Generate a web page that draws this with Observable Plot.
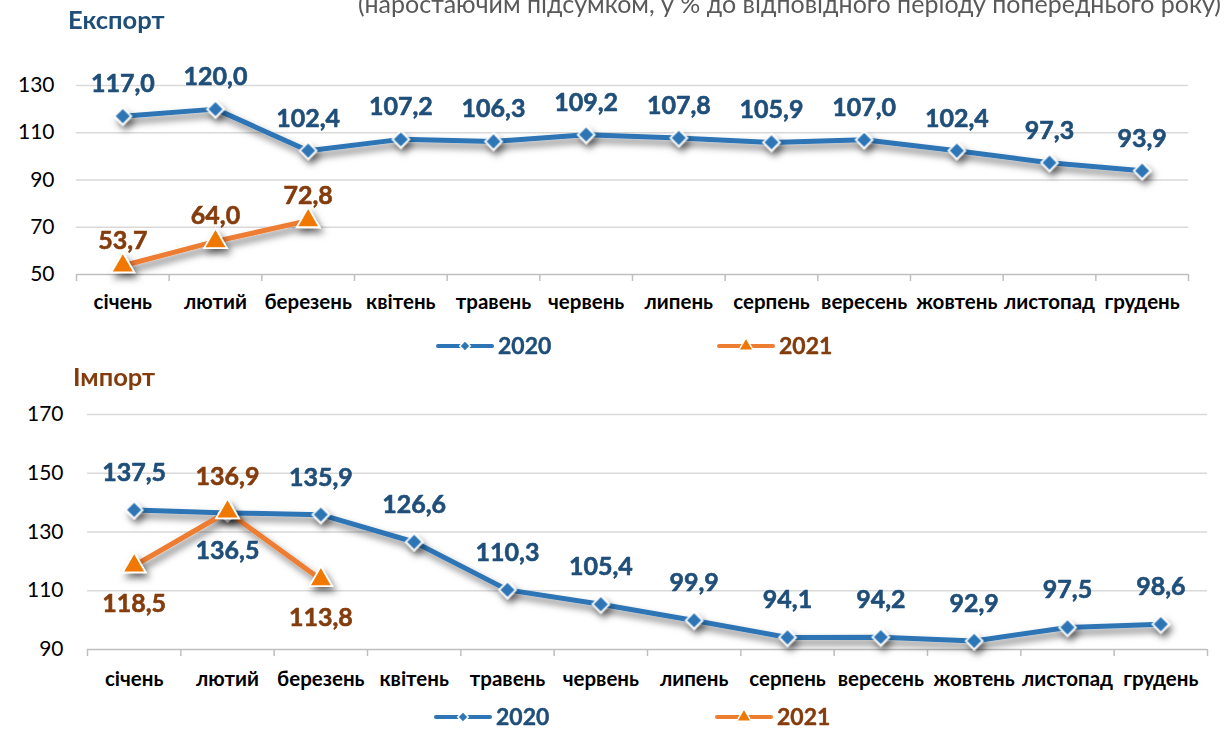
<!DOCTYPE html>
<html>
<head>
<meta charset="utf-8">
<script src="https://cdn.jsdelivr.net/npm/d3@7"></script>
<script src="https://cdn.jsdelivr.net/npm/@observablehq/plot@0.6"></script>
<style>
  html, body { margin: 0; padding: 0; background: #fff; }
  body { width: 1225px; height: 730px; position: relative; overflow: hidden; font-family: Lato, "Open Sans", sans-serif; }
  .abs { position: absolute; }
  #overlay { position: absolute; left: 0; top: 0; pointer-events: none; }
</style>
</head>
<body>
<div id="exportChart" class="abs" style="left:0;top:60px;"></div>
<div id="importChart" class="abs" style="left:0;top:390px;"></div>
<svg id="overlay" width="1225" height="730"></svg>
<script>
// ---------------- DATA ----------------
const months = ["січень","лютий","березень","квітень","травень","червень","липень","серпень","вересень","жовтень","листопад","грудень"];
const seriesNames = ["2020", "2021"];
const export2020 = [117.0, 120.0, 102.4, 107.2, 106.3, 109.2, 107.8, 105.9, 107.0, 102.4, 97.3, 93.9];
const export2021 = [53.7, 64.0, 72.8];
const import2020 = [137.5, 136.5, 135.9, 126.6, 110.3, 105.4, 99.9, 94.1, 94.2, 92.9, 97.5, 98.6];
const import2021 = [118.5, 136.9, 113.8];
const exportTicks = [50, 70, 90, 110, 130];
const importTicks = [90, 110, 130, 150, 170];
const exportTitle = "Експорт";
const importTitle = "Імпорт";
const subtitle = "(наростаючим підсумком, у % до відповідного періоду попереднього року)";
// months whose value label sits below the point (import panel)
const importBelow2020 = ["лютий"];
const importBelow2021 = ["січень", "березень"];

// ---------------- STYLE ----------------
const C = {
  line20: "#2E75B6", dot20: "#2E75B6", text20: "#1F4E79",
  line21: "#ED7D31", dot21: "#F07800", text21: "#843C0C",
  grid: "#d9d9d9", base: "#bfbfbf"
};
const fmt = v => v.toFixed(1).replace(".", ",");

function toRows(vals) {
  return vals.map((v, i) => ({ month: months[i], i: i + 0.5, v }));
}

function addShadow(svg, id) {
  const defs = d3.select(svg).insert("defs", ":first-child");
  const f = defs.append("filter").attr("id", id)
    .attr("x", "-20%").attr("y", "-60%").attr("width", "140%").attr("height", "220%");
  f.append("feDropShadow").attr("dx", 3).attr("dy", 5).attr("stdDeviation", 3.5)
    .attr("flood-color", "#000").attr("flood-opacity", 0.5);
  d3.select(svg).selectAll('g[aria-label="line"], g[aria-label="dot"]').attr("filter", `url(#${id})`);
}

function makeChart(o) {
  const r20 = toRows(o.v20), r21 = toRows(o.v21);
  const above20 = r20.filter(d => !o.below20.includes(d.month));
  const below20 = r20.filter(d => o.below20.includes(d.month));
  const above21 = r21.filter(d => !o.below21.includes(d.month));
  const below21 = r21.filter(d => o.below21.includes(d.month));
  const lbl = { x: "i", y: "v", text: d => fmt(d.v), fontSize: 25, fontWeight: "bold", strokeWidth: 0.6 };
  const svg = Plot.plot({
    width: 1225, height: o.height,
    marginTop: o.mt, marginBottom: o.mb, marginLeft: o.ml, marginRight: o.mr,
    style: { background: "transparent", overflow: "visible", fontFamily: "Lato, sans-serif", color: "#000" },
    x: { domain: [0, 12], axis: null },
    y: { domain: [o.ticks[0], o.ticks[o.ticks.length - 1]], axis: null },
    marks: [
      Plot.ruleY(o.ticks.slice(1), { stroke: C.grid, strokeWidth: 1.3 }),
      Plot.ruleY([o.ticks[0]], { stroke: C.base, strokeWidth: 1.5 }),
      Plot.axisX({ ticks: d3.range(13), tickSize: 7, tickFormat: () => "", stroke: C.base, strokeWidth: 1.5, label: null }),
      Plot.axisX({ ticks: d3.range(12).map(i => i + 0.5), tickSize: 0, tickPadding: o.xPad,
        tickFormat: d => months[Math.floor(d)], fontSize: 20.5, fontWeight: "bold", label: null }),
      Plot.axisY({ ticks: o.ticks, tickSize: 0, tickPadding: o.yPad, fontSize: 21, label: null }),
      Plot.line(r20, { x: "i", y: "v", stroke: C.line20, strokeWidth: 5 }),
      Plot.line(r21, { x: "i", y: "v", stroke: C.line21, strokeWidth: 5 }),
      Plot.dot(r20, { x: "i", y: "v", symbol: "diamond2", r: 7.5, fill: C.dot20, stroke: "#fff", strokeWidth: 1.8 }),
      Plot.dot(r21, { x: "i", y: "v", symbol: "triangle", r: 8.5, fill: C.dot21, stroke: "#fff", strokeWidth: 1.8 }),
      Plot.text(above20, { ...lbl, fill: C.text20, stroke: C.text20, dy: o.dy20 }),
      Plot.text(below20, { ...lbl, fill: C.text20, stroke: C.text20, dy: o.dyBelow }),
      Plot.text(above21, { ...lbl, fill: C.text21, stroke: C.text21, dy: o.dy21 }),
      Plot.text(below21, { ...lbl, fill: C.text21, stroke: C.text21, dy: o.dyBelow })
    ]
  });
  addShadow(svg, o.id + "-sh");
  return svg;
}

document.getElementById("exportChart").appendChild(makeChart({
  id: "exp", v20: export2020, v21: export2021, ticks: exportTicks, height: 260,
  mt: 25, mb: 46, ml: 76, mr: 37, xPad: 20, yPad: 22,
  below20: [], below21: [], dy20: -32, dy21: -25, dyBelow: 36
}));
document.getElementById("importChart").appendChild(makeChart({
  id: "imp", v20: import2020, v21: import2021, ticks: importTicks, height: 320,
  mt: 24, mb: 61, ml: 87, mr: 18, xPad: 22, yPad: 24,
  below20: importBelow2020, below21: importBelow2021, dy20: -37, dy21: -35, dyBelow: 38
}));

// ---------------- TITLES & LEGENDS ----------------
const ov = d3.select("#overlay").style("font-family", "Lato, sans-serif");
ov.append("text").attr("x", 1221).attr("y", 13).attr("text-anchor", "end")
  .attr("font-size", 25).attr("fill", "#595959").text(subtitle);
ov.append("text").attr("x", 68).attr("y", 29).attr("font-size", 25.5).attr("font-weight", "bold")
  .attr("fill", C.text20).text(exportTitle);
ov.append("text").attr("x", 73).attr("y", 386).attr("font-size", 25.5).attr("font-weight", "bold")
  .attr("fill", C.text21).text(importTitle);

function legend(y, x20, x21) {
  const items = [
    { name: seriesNames[0], x: x20, line: C.line20, dot: C.dot20, text: C.text20, sym: d3.symbolDiamond2, size: 70 },
    { name: seriesNames[1], x: x21, line: C.line21, dot: C.dot21, text: C.text21, sym: d3.symbolTriangle, size: 90 }
  ];
  items.forEach(it => {
    const g = ov.append("g").attr("transform", `translate(${it.x},${y})`);
    g.append("line").attr("x1", 0).attr("x2", 54).attr("stroke", it.line).attr("stroke-width", 4).attr("stroke-linecap", "round");
    g.append("path").attr("d", d3.symbol(it.sym, it.size)()).attr("transform", "translate(27,0)")
      .attr("fill", it.dot).attr("stroke", "#fff").attr("stroke-width", 1.5);
    g.append("text").attr("x", 60).attr("dy", "0.36em").attr("font-size", 23).attr("font-weight", "bold")
      .attr("stroke", it.text).attr("stroke-width", 0.4)
      .attr("fill", it.text).text(it.name);
  });
}
legend(346, 438, 719);
legend(717, 436, 717);
</script>
</body>
</html>
